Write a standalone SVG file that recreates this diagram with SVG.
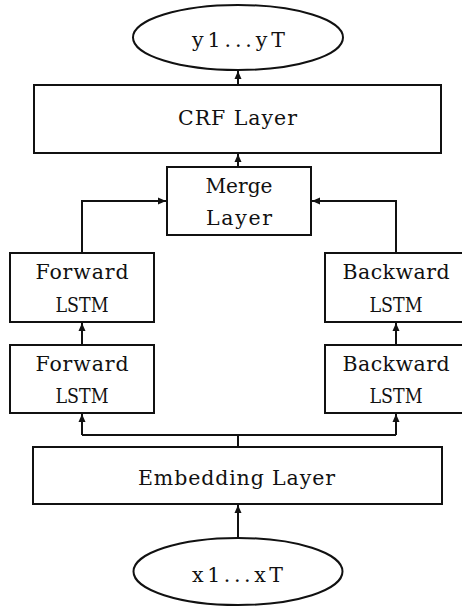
<svg xmlns="http://www.w3.org/2000/svg" width="462" height="608" viewBox="0 0 462 608">
<style>
.box{fill:#fff;stroke:#111;stroke-width:2}
.t{font-family:"DejaVu Serif","Liberation Serif",serif;font-size:20.5px;fill:#111;text-anchor:middle}
.c{fill:none;stroke:#111;stroke-width:2}
</style>
<defs>
<marker id="ah" markerWidth="8" markerHeight="8" refX="8" refY="4" orient="auto" markerUnits="userSpaceOnUse">
<path d="M0,0.5 L8,4 L0,7.5 Z" fill="#111"/>
</marker>
</defs>
<rect width="462" height="608" fill="#fff"/>
<g id="connectors">
<path class="c" d="M238,538 L238,505" marker-end="url(#ah)"/>
<path class="c" d="M238,447 L238,435"/>
<path class="c" d="M82,435 L396,435"/>
<path class="c" d="M82,435 L82,414" marker-end="url(#ah)"/>
<path class="c" d="M396,435 L396,414" marker-end="url(#ah)"/>
<path class="c" d="M82,345 L82,323" marker-end="url(#ah)"/>
<path class="c" d="M396,345 L396,323" marker-end="url(#ah)"/>
<path class="c" d="M82,253 L82,201 L166,201" marker-end="url(#ah)"/>
<path class="c" d="M396,253 L396,201 L312,201" marker-end="url(#ah)"/>
<path class="c" d="M238,167 L238,154" marker-end="url(#ah)"/>
<path class="c" d="M238,85 L238,71" marker-end="url(#ah)"/>
</g>
<g id="output">
<ellipse class="box" cx="238" cy="37.5" rx="105" ry="32.5"/>
<text class="t" x="238.5" y="47" textLength="93" lengthAdjust="spacing">y1...yT</text>
</g>
<g id="crf">
<rect class="box" x="34" y="85" width="407" height="68"/>
<text class="t" x="237.5" y="125" textLength="119" lengthAdjust="spacing">CRF Layer</text>
</g>
<g id="merge">
<rect class="box" x="167" y="167" width="144" height="68"/>
<text class="t" x="239" y="193" textLength="67" lengthAdjust="spacingAndGlyphs">Merge</text>
<text class="t" x="239" y="225" textLength="66" lengthAdjust="spacing">Layer</text>
</g>
<g id="forward2">
<rect class="box" x="10" y="253" width="144" height="69"/>
<text class="t" x="82" y="279" textLength="93" lengthAdjust="spacing">Forward</text>
<text class="t" x="82" y="312" textLength="53" lengthAdjust="spacingAndGlyphs">LSTM</text>
</g>
<g id="forward1">
<rect class="box" x="10" y="345" width="144" height="68"/>
<text class="t" x="82" y="371" textLength="93" lengthAdjust="spacing">Forward</text>
<text class="t" x="82" y="403" textLength="53" lengthAdjust="spacingAndGlyphs">LSTM</text>
</g>
<g id="backward2">
<rect class="box" x="325" y="253" width="140" height="69"/>
<text class="t" x="396" y="279" textLength="107" lengthAdjust="spacing">Backward</text>
<text class="t" x="396" y="312" textLength="53" lengthAdjust="spacingAndGlyphs">LSTM</text>
</g>
<g id="backward1">
<rect class="box" x="325" y="345" width="140" height="68"/>
<text class="t" x="396" y="371" textLength="107" lengthAdjust="spacing">Backward</text>
<text class="t" x="396" y="403" textLength="53" lengthAdjust="spacingAndGlyphs">LSTM</text>
</g>
<g id="embedding">
<rect class="box" x="33" y="447" width="409" height="57"/>
<text class="t" x="236.5" y="485" textLength="197" lengthAdjust="spacing">Embedding Layer</text>
</g>
<g id="input">
<ellipse class="box" cx="238" cy="571.5" rx="104.5" ry="33.5"/>
<text class="t" x="237.5" y="582" textLength="91" lengthAdjust="spacing">x1...xT</text>
</g>
</svg>
